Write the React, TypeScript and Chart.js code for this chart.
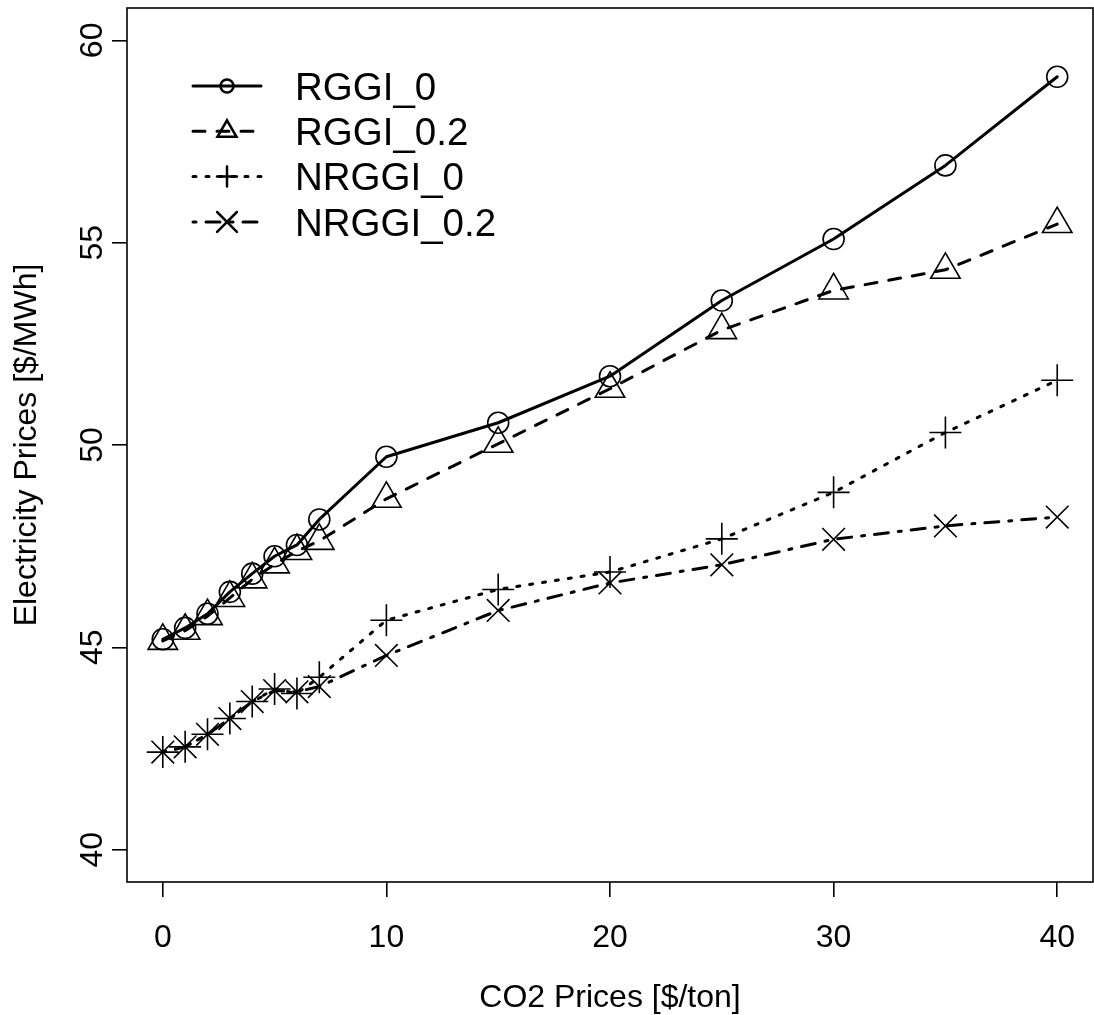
import React, { useEffect, useRef } from 'react';
import { Chart, registerables } from 'chart.js';
import { drawPoint } from 'chart.js/helpers';

Chart.register(...registerables);

// ---- data ----
const co2Prices = [0, 1, 2, 3, 4, 5, 6, 7, 10, 15, 20, 25, 30, 35, 40];
const rggi0 = [45.2, 45.48, 45.83, 46.37, 46.82, 47.25, 47.53, 48.16, 49.71, 50.55, 51.7, 53.57, 55.09, 56.91, 59.1];
const rggi02 = [45.16, 45.41, 45.77, 46.22, 46.68, 47.05, 47.38, 47.63, 48.67, 50.03, 51.39, 52.84, 53.82, 54.33, 55.46];
const nrggi0 = [42.41, 42.54, 42.85, 43.24, 43.66, 43.97, 43.86, 44.26, 45.67, 46.43, 46.86, 47.68, 48.83, 50.31, 51.6];
const nrggi02 = [42.41, 42.54, 42.85, 43.24, 43.66, 43.93, 43.9, 44.03, 44.8, 45.91, 46.59, 47.04, 47.67, 48.0, 48.22];
const seriesLabels = ['RGGI_0', 'RGGI_0.2', 'NRGGI_0', 'NRGGI_0.2'];
const xTicks = [0, 10, 20, 30, 40];
const yTicks = [40, 45, 50, 55, 60];
const xTitle = 'CO2 Prices [$/ton]';
const yTitle = 'Electricity Prices [$/MWh]';

const FONT = '"Liberation Sans", Arial, Helvetica, sans-serif';

const seriesStyle = [
  { dash: [], point: 'circle', radius: 10.5, legendRadius: 6.5 },
  { dash: [12, 12], point: 'triangle', radius: 17, legendRadius: 11 },
  { dash: [3, 10], point: 'cross', radius: 16, legendRadius: 10 },
  { dash: [3, 10, 14, 10], point: 'crossRot', radius: 16, legendRadius: 14 },
];

const boxAndLegend = {
  id: 'boxAndLegend',
  afterDraw(chart: any) {
    const { ctx, chartArea: a } = chart;
    ctx.save();
    ctx.strokeStyle = '#000';
    ctx.lineWidth = 1.6;
    ctx.setLineDash([]);
    ctx.strokeRect(a.left, a.top, a.right - a.left, a.bottom - a.top);

    // tick labels, positioned through the chart's own scales
    ctx.fillStyle = '#000';
    ctx.font = `32px ${FONT}`;
    ctx.textAlign = 'center';
    ctx.textBaseline = 'middle';
    const xs = chart.scales.x;
    xTicks.forEach((v) => ctx.fillText(String(v), xs.getPixelForValue(v), a.bottom + 56));
    const ys = chart.scales.y;
    yTicks.forEach((v) => {
      ctx.save();
      ctx.translate(a.left - 34, ys.getPixelForValue(v));
      ctx.rotate(-Math.PI / 2);
      ctx.fillText(String(v), 0, 0);
      ctx.restore();
    });

    const lx0 = a.left + 66;
    const lx1 = a.left + 134;
    const mx = a.left + 100;
    const tx = a.left + 168;
    chart.data.datasets.forEach((ds: any, i: number) => {
      const y = a.top + 78 + 45.3 * i;
      ctx.strokeStyle = '#000';
      ctx.lineWidth = 3;
      ctx.lineCap = 'round';
      ctx.setLineDash(ds.borderDash || []);
      ctx.beginPath();
      ctx.moveTo(lx0, y);
      ctx.lineTo(lx1, y);
      ctx.stroke();
      ctx.setLineDash([]);
      ctx.fillStyle = 'rgba(0,0,0,0)';
      ctx.lineWidth = 2.5;
      drawPoint(ctx, { pointStyle: ds.pointStyle, radius: seriesStyle[i].legendRadius, borderWidth: 2.5, rotation: 0 } as any, mx, y);
      ctx.fillStyle = '#000';
      ctx.font = `38.5px ${FONT}`;
      ctx.textAlign = 'left';
      ctx.textBaseline = 'middle';
      ctx.fillText(ds.label, tx, y + 3);
    });
    ctx.restore();
  },
};

export default function App() {
  const ref = useRef<HTMLCanvasElement | null>(null);
  useEffect(() => {
    if (!ref.current) return;
    const series = [rggi0, rggi02, nrggi0, nrggi02];
    const datasets = series.map((vals, i) => ({
      label: seriesLabels[i],
      data: co2Prices.map((x, j) => ({ x, y: vals[j] })),
      borderColor: '#000',
      borderWidth: 3,
      borderDash: seriesStyle[i].dash,
      borderCapStyle: 'round' as const,
      borderJoinStyle: 'round' as const,
      pointStyle: seriesStyle[i].point,
      pointRadius: seriesStyle[i].radius,
      pointBorderColor: '#000',
      pointBackgroundColor: 'rgba(0,0,0,0)',
      pointBorderWidth: 1.6,
      tension: 0,
      fill: false,
      clip: false,
    }));
    const chart = new Chart(ref.current, {
      type: 'line',
      data: { datasets } as any,
      options: {
        animation: false,
        responsive: false,
        devicePixelRatio: 1,
        layout: { autoPadding: false, padding: { left: 0, right: 1, top: 8, bottom: 0 } },
        plugins: { legend: { display: false }, tooltip: { enabled: false } },
        scales: {
          x: {
            type: 'linear',
            min: -1.6,
            max: 41.6,
            afterBuildTicks: (s: any) => { s.ticks = xTicks.map((v) => ({ value: v })); },
            afterFit: (s: any) => { s.height = 133; },
            border: { display: false },
            grid: { display: true, drawOnChartArea: false, drawTicks: true, tickLength: 15, color: '#000', lineWidth: 1.6 },
            ticks: { display: false },
            title: { display: true, text: xTitle, color: '#000', font: { family: FONT, size: 32, lineHeight: 1 }, padding: { top: 0, bottom: 1 } },
          },
          y: {
            type: 'linear',
            min: 39.2,
            max: 60.8,
            afterBuildTicks: (s: any) => { s.ticks = yTicks.map((v) => ({ value: v })); },
            afterFit: (s: any) => { s.width = 127; },
            border: { display: false },
            grid: { display: true, drawOnChartArea: false, drawTicks: true, tickLength: 15, color: '#000', lineWidth: 1.6 },
            ticks: { display: false },
            title: { display: true, text: yTitle, color: '#000', font: { family: FONT, size: 32, lineHeight: 1 }, padding: { top: 11, bottom: 0 } },
          },
        },
      } as any,
      plugins: [boxAndLegend],
    });
    return () => chart.destroy();
  }, []);
  return (
    <div style={{ position: 'absolute', left: 0, top: 0, width: 1094, height: 1015, background: '#fff' }}>
      <canvas ref={ref} width={1094} height={1015} style={{ display: 'block' }} />
    </div>
  );
}
